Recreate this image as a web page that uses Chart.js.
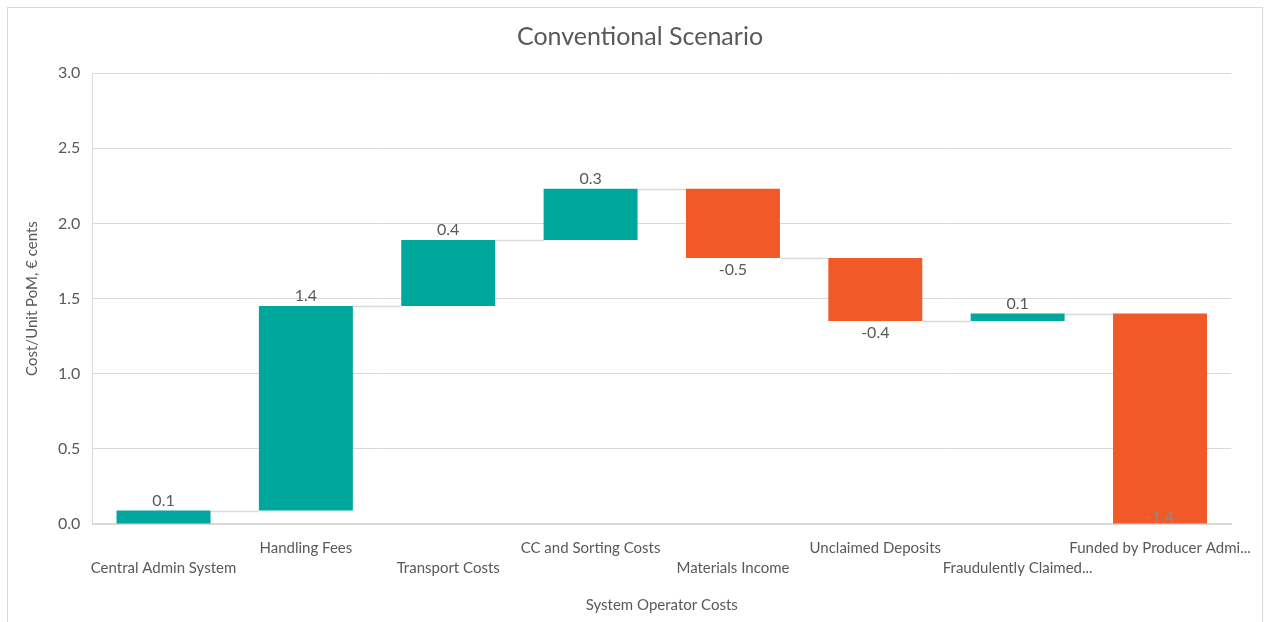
<!DOCTYPE html>
<html>
<head>
<meta charset="utf-8">
<title>Conventional Scenario</title>
<script src="https://cdn.jsdelivr.net/npm/chart.js@4"></script>
<style>
  body { margin: 0; background: #fff; }
  #wrap { position: relative; width: 1265px; height: 622px; }
  #frame { position: absolute; left: 7px; top: 7px; width: 1256px; height: 640px;
           border: 1.5px solid #d9d9d9; box-sizing: border-box; pointer-events: none; }
</style>
</head>
<body>
<div id="wrap">
  <canvas id="waterfall"></canvas>
  <div id="frame"></div>
</div>
<script>
// cost steps, € cents per unit PoM; last entry is the amount funded by producers
const categories = [
    "Central Admin System",
    "Handling Fees",
    "Transport Costs",
    "CC and Sorting Costs",
    "Materials Income",
    "Unclaimed Deposits",
    "Fraudulently Claimed...",
    "Funded by Producer Admi..."
];
const values = [0.09, 1.36, 0.44, 0.34, -0.46, -0.42, 0.05, -1.40];
const yTicks = [0, 0.5, 1.0, 1.5, 2.0, 2.5, 3.0];

const TEAL = "#00a79d";
const ORANGE = "#f15a28";
const TEXT = "#595959";
const GRID = "#d9d9d9";

// floating bars: each step starts where the previous one ended,
// the final bar stands on zero
const ranges = [];
let running = 0;
values.forEach((v, i) => {
    if (i === values.length - 1) {
        ranges.push([0, -v]);
    } else {
        ranges.push([running, running + v]);
        running += v;
    }
});
const colors = values.map((v, i) =>
    (i === values.length - 1 || v < 0) ? ORANGE : TEAL);

// alternate the category labels on two rows
const xLabels = categories.map((c, i) => i % 2 === 0 ? ["", c] : [c, ""]);

function fmt(v) {
    return (Math.round(v * 10) / 10).toFixed(1);
}

// grey connector from the end of one bar to the start of the next
const connectors = {
    id: "connectors",
    beforeDatasetsDraw(chart) {
        const ctx = chart.ctx;
        const bars = chart.getDatasetMeta(0).data;
        const y = chart.scales.y;
        ctx.save();
        ctx.strokeStyle = GRID;
        ctx.lineWidth = 1.5;
        for (let i = 0; i < bars.length - 1; i++) {
            const level = ranges[i][1];
            const py = Math.round(y.getPixelForValue(level)) + 0.5;
            ctx.beginPath();
            ctx.moveTo(bars[i].x + bars[i].width / 2, py);
            ctx.lineTo(bars[i + 1].x - bars[i + 1].width / 2, py);
            ctx.stroke();
        }
        ctx.restore();
    }
};

// value labels: above rising bars, below falling ones, inside base of the total
const valueLabels = {
    id: "valueLabels",
    afterDatasetsDraw(chart) {
        const ctx = chart.ctx;
        const bars = chart.getDatasetMeta(0).data;
        const y = chart.scales.y;
        ctx.save();
        ctx.font = "16px Lato, 'Open Sans', sans-serif";
        ctx.textAlign = "center";
        bars.forEach((bar, i) => {
            const v = values[i];
            const [lo, hi] = ranges[i];
            if (i === values.length - 1) {
                ctx.fillStyle = "#8c8c8c";
                ctx.textBaseline = "bottom";
                ctx.fillText(fmt(v), bar.x, y.getPixelForValue(lo) + 1);
            } else if (v >= 0) {
                ctx.fillStyle = TEXT;
                ctx.textBaseline = "bottom";
                ctx.fillText(fmt(v), bar.x, y.getPixelForValue(hi) - 2);
            } else {
                ctx.fillStyle = TEXT;
                ctx.textBaseline = "top";
                ctx.fillText(fmt(v), bar.x, y.getPixelForValue(hi) + 4);
            }
        });
        ctx.restore();
    }
};

Chart.defaults.font.family = "Lato, 'Open Sans', sans-serif";
Chart.defaults.color = TEXT;

new Chart(document.getElementById("waterfall"), {
    type: "bar",
    data: {
        labels: xLabels,
        datasets: [{
            label: "System Operator Costs",
            data: ranges,
            backgroundColor: colors,
            borderWidth: 0,
            barPercentage: 0.66,
            categoryPercentage: 1.0
        }]
    },
    options: {
        responsive: true,
        maintainAspectRatio: false,
        animation: false,
        layout: { padding: { left: 19, right: 4, top: 20, bottom: 4 } },
        plugins: {
            legend: { display: false },
            tooltip: { enabled: false },
            title: {
                display: true,
                text: "Conventional Scenario",
                color: TEXT,
                font: { size: 25, weight: "normal" },
                padding: { top: 2, bottom: 21 }
            }
        },
        scales: {
            x: {
                grid: { display: false, drawTicks: false },
                border: { display: true, color: GRID, width: 1.5 },
                ticks: {
                    autoSkip: false,
                    maxRotation: 0,
                    minRotation: 0,
                    padding: 14,
                    font: { size: 15, lineHeight: 1.33 },
                    color: TEXT
                },
                title: {
                    display: true,
                    text: "System Operator Costs",
                    color: TEXT,
                    font: { size: 15 },
                    padding: { top: 4 }
                }
            },
            y: {
                min: 0,
                max: 3,
                afterBuildTicks(axis) {
                    axis.ticks = yTicks.map(v => ({ value: v }));
                },
                grid: { color: GRID, lineWidth: 1, drawTicks: false },
                border: { display: true, color: GRID, width: 1 },
                ticks: {
                    padding: 12,
                    font: { size: 16 },
                    color: TEXT,
                    callback: v => v.toFixed(1)
                },
                title: {
                    display: true,
                    text: "Cost/Unit PoM, € cents",
                    color: TEXT,
                    font: { size: 15 },
                    padding: { bottom: 5 }
                }
            }
        }
    },
    plugins: [connectors, valueLabels]
});
</script>
</body>
</html>
